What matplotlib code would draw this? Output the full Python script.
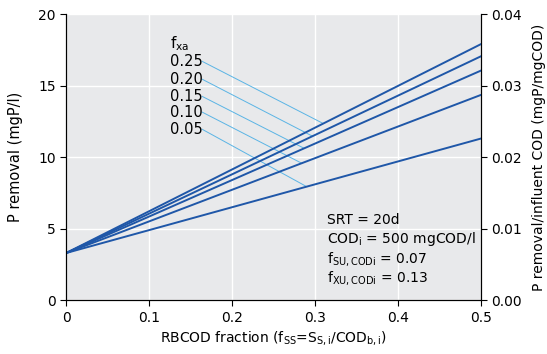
import numpy as np
import matplotlib.pyplot as plt

# P removal vs RBCOD fraction, one line per f_xa
fxa_labels = ["0.25", "0.20", "0.15", "0.10", "0.05"]
p_start = [3.3, 3.3, 3.3, 3.3, 3.3]          # at fss = 0
p_end = [17.9, 17.05, 16.05, 14.35, 11.3]     # at fss = 0.5
fss = [0.0, 0.5]

# leader lines: label end -> point on line
lead_x0 = [0.164, 0.164, 0.164, 0.164, 0.164]
lead_y0 = [16.7, 15.45, 14.25, 13.15, 11.95]
lead_x1 = [0.310, 0.297, 0.287, 0.284, 0.290]

line_col = "#1f57a8"
lead_col = "#5ab4e5"

fig, ax = plt.subplots(figsize=(5.47, 3.54), dpi=100)
fig.subplots_adjust(left=0.121, right=0.879, top=0.96, bottom=0.152)
ax.set_facecolor("#e8e9eb")

for i in range(len(fxa_labels)):
    ax.plot(fss, [p_start[i], p_end[i]], color=line_col, lw=1.4, zorder=3)
    slope = (p_end[i] - p_start[i]) / (fss[1] - fss[0])
    y1 = p_start[i] + slope * lead_x1[i]
    ax.plot([lead_x0[i], lead_x1[i]], [lead_y0[i], y1], color=lead_col, lw=0.7, zorder=2)
    ax.text(0.1255, lead_y0[i], fxa_labels[i], fontsize=10.5, va="center", ha="left")

ax.text(0.1255, 17.95, r"f$_\mathrm{xa}$", fontsize=11, va="center", ha="left")

ax.text(0.3145, 5.6, "SRT = 20d", fontsize=10, va="center")
ax.text(0.3145, 4.25, r"COD$_\mathrm{i}$ = 500 mgCOD/l", fontsize=10, va="center")
ax.text(0.3145, 2.9, r"f$_\mathrm{SU,CODi}$ = 0.07", fontsize=10, va="center")
ax.text(0.3145, 1.55, r"f$_\mathrm{XU,CODi}$ = 0.13", fontsize=10, va="center")

ax.set_xlim(0, 0.5)
ax.set_ylim(0, 20)
ax.set_xticks([0, 0.1, 0.2, 0.3, 0.4, 0.5])
ax.set_xticklabels(["0", "0.1", "0.2", "0.3", "0.4", "0.5"])
ax.set_yticks([0, 5, 10, 15, 20])
ax.grid(color="white", lw=1)
ax.set_axisbelow(True)
ax.spines["top"].set_visible(False)
ax.tick_params(labelsize=10, direction="out", length=4)
ax.set_xlabel(r"RBCOD fraction (f$_\mathrm{SS}$=S$_\mathrm{S,i}$/COD$_\mathrm{b,i}$)", fontsize=10, labelpad=3)
ax.set_ylabel("P removal (mgP/l)", fontsize=10.5, labelpad=11)

ax2 = ax.twinx()
ax2.set_ylim(0, 0.04)
ax2.set_yticks([0, 0.01, 0.02, 0.03, 0.04])
ax2.set_yticklabels(["0.00", "0.01", "0.02", "0.03", "0.04"])
ax2.spines["top"].set_visible(False)
ax2.tick_params(labelsize=10, direction="out", length=4)
ax2.set_ylabel("P removal/influent COD (mgP/mgCOD)", fontsize=10, labelpad=7)

fig.savefig("out.png", dpi=100)
